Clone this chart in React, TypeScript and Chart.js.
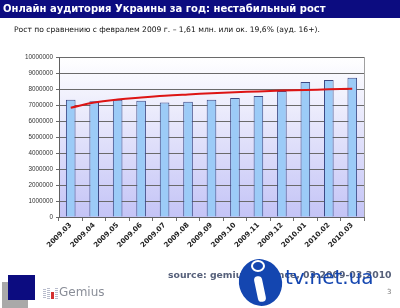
import React, { useEffect, useRef } from "react";
import { Chart, registerables } from "chart.js";

Chart.register(...registerables);

const categories = [
  "2009.03", "2009.04", "2009.05", "2009.06", "2009.07", "2009.08", "2009.09",
  "2009.10", "2009.11", "2009.12", "2010.01", "2010.02", "2010.03",
];
const audience = [
  7330000, 7230000, 7330000, 7270000, 7160000, 7200000, 7330000,
  7430000, 7560000, 7870000, 8430000, 8560000, 8710000,
];
const trend = [
  6830000, 7150000, 7340000, 7470000, 7580000, 7660000, 7730000,
  7790000, 7850000, 7900000, 7940000, 7980000, 8020000,
];
const yMin = 0;
const yMax = 10000000;
const yStep = 1000000;

const titleText = "Онлайн аудитория Украины за год: нестабильный рост";
const subtitleText = "Рост по сравнению с февралем 2009 г. – 1,61 млн. или ок. 19,6% (ауд. 16+).";
const sourceText = "source: gemiusAudience, 03.2009-03.2010";

const plotBg = {
  id: "plotBg",
  beforeDraw(chart: any) {
    const { ctx, chartArea } = chart;
    if (!chartArea) return;
    const g = ctx.createLinearGradient(0, chartArea.top, 0, chartArea.bottom);
    g.addColorStop(0, "#ffffff");
    g.addColorStop(1, "#c4c4f6");
    ctx.save();
    ctx.fillStyle = g;
    ctx.fillRect(chartArea.left, chartArea.top, chartArea.right - chartArea.left, chartArea.bottom - chartArea.top);
    ctx.restore();
  },
  afterDraw(chart: any) {
    const { ctx, chartArea } = chart;
    ctx.save();
    ctx.strokeStyle = "#a0a0a0";
    ctx.lineWidth = 1;
    ctx.beginPath();
    ctx.moveTo(Math.round(chartArea.right) + 0.5, chartArea.top);
    ctx.lineTo(Math.round(chartArea.right) + 0.5, chartArea.bottom);
    ctx.stroke();
    ctx.restore();
  },
};

export default function App() {
  const ref = useRef<HTMLCanvasElement>(null);
  useEffect(() => {
    if (!ref.current) return;
    const chart = new Chart(ref.current, {
      type: "bar",
      data: {
        labels: categories,
        datasets: [
          {
            type: "line" as any,
            data: trend,
            borderColor: "#dd1414",
            borderWidth: 2,
            pointRadius: 0,
            tension: 0.4,
            fill: false,
            order: 1,
          } as any,
          {
            type: "bar",
            data: audience,
            backgroundColor: "#9ccbf7",
            borderColor: "#3c4a86",
            borderWidth: 1,
            categoryPercentage: 1,
            barPercentage: 0.41,
            order: 2,
          },
        ],
      },
      options: {
        animation: false,
        responsive: false,
        maintainAspectRatio: false,
        layout: { padding: { top: 57, right: 36, left: 0, bottom: 0 } },
        plugins: { legend: { display: false }, tooltip: { enabled: false } },
        scales: {
          x: {
            afterFit(scale: any) {
              scale.height = 91;
            },
            grid: {
              offset: true,
              drawOnChartArea: false,
              tickLength: 4,
              color: "#707070",
            },
            border: { color: "#606060" },
            ticks: {
              minRotation: 45,
              maxRotation: 45,
              color: "#222222",
              padding: 0,
              font: { family: "DejaVu Sans", size: 7, weight: "bold" },
            },
          },
          y: {
            min: yMin,
            max: yMax,
            afterFit(scale: any) {
              scale.width = 59;
            },
            grid: { color: "#6a6a6a", tickLength: 3 },
            border: { color: "#606060" },
            ticks: {
              stepSize: yStep,
              color: "#333333",
              padding: 3,
              font: { family: "Liberation Sans", size: 6.3 },
              callback: (v: any) => String(v),
            },
          },
        },
      },
      plugins: [plotBg],
    });
    return () => chart.destroy();
  }, []);

  return (
    <div style={{ position: "fixed", left: 0, top: 0, width: 400, height: 308, background: "#ffffff", overflow: "hidden" }}>
      <canvas ref={ref} width={400} height={308} style={{ position: "absolute", left: 0, top: 0, width: 400, height: 308 }} />
      <div style={{ position: "absolute", left: 0, top: 0, width: 400, height: 18, background: "#0c0c80" }} />
      <div style={{ position: "absolute", left: 3, top: 0, height: 18, lineHeight: "18px", color: "#ffffff", fontFamily: "DejaVu Sans", fontWeight: "bold", fontSize: 10, whiteSpace: "nowrap" }}>
        {titleText}
      </div>
      <div style={{ position: "absolute", left: 14, top: 25, lineHeight: "10px", color: "#111111", fontFamily: "DejaVu Sans", fontSize: 7.6, whiteSpace: "nowrap" }}>
        {subtitleText}
      </div>
      {/* footer logos */}
      <div style={{ position: "absolute", left: 2, top: 282, width: 26, height: 26, background: "#a9a9a9" }} />
      <div style={{ position: "absolute", left: 8, top: 275, width: 27, height: 25, background: "#0c0c80" }} />
      <div style={{ position: "absolute", left: 43, top: 289, width: 3, height: 10, background: "repeating-linear-gradient(#b8bccc 0 1px, transparent 1px 2px)" }} />
      <div style={{ position: "absolute", left: 47, top: 288, width: 3, height: 11, background: "repeating-linear-gradient(#b8bccc 0 1px, transparent 1px 2px)" }} />
      <div style={{ position: "absolute", left: 51, top: 292, width: 3, height: 7, background: "#d43030" }} />
      <div style={{ position: "absolute", left: 55, top: 288, width: 3, height: 11, background: "repeating-linear-gradient(#b8bccc 0 1px, transparent 1px 2px)" }} />
      <div style={{ position: "absolute", left: 59, top: 285, lineHeight: "14px", color: "#8a8e98", fontFamily: "DejaVu Sans", fontSize: 12, whiteSpace: "nowrap" }}>
        Gemius
      </div>
      <div style={{ position: "absolute", left: 168, top: 269, lineHeight: "11px", color: "#56607a", fontFamily: "DejaVu Sans", fontWeight: "bold", fontSize: 9.3, whiteSpace: "nowrap" }}>
        {sourceText}
      </div>
      {/* tv.net.ua watermark */}
      <div style={{ position: "absolute", left: 239, top: 259, width: 43, height: 47, borderRadius: "50%", background: "#1446b0", transform: "rotate(-15deg)" }} />
      <div style={{ position: "absolute", left: 256, top: 276, width: 8, height: 26, borderRadius: 4, background: "#ffffff", transform: "rotate(-12deg)" }} />
      <div style={{ position: "absolute", left: 251, top: 260, width: 14, height: 12, borderRadius: "50%", border: "2px solid #ffffff", background: "#1446b0", boxSizing: "border-box" }} />
      <div style={{ position: "absolute", left: 285, top: 263, lineHeight: "28px", color: "#1446b0", fontFamily: "DejaVu Sans", fontSize: 20, whiteSpace: "nowrap" }}>
        tv.net.ua
      </div>
      <div style={{ position: "absolute", left: 387, top: 288, lineHeight: "9px", color: "#777777", fontFamily: "DejaVu Sans", fontSize: 7, whiteSpace: "nowrap" }}>
        3
      </div>
    </div>
  );
}
